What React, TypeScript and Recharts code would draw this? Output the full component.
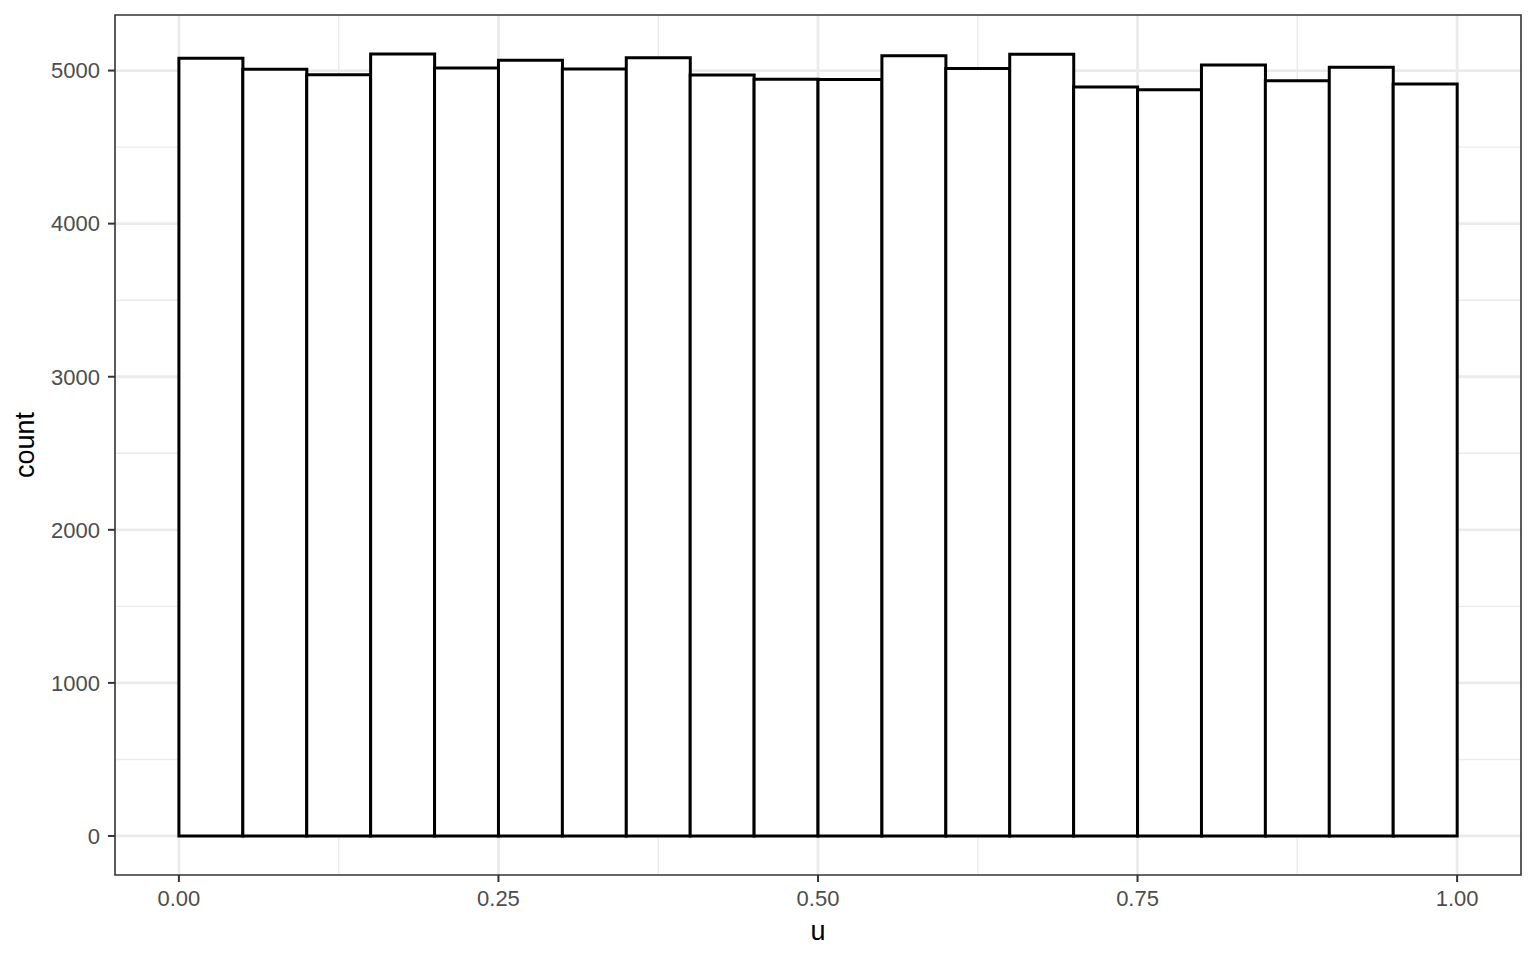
import { BarChart, Bar, XAxis, YAxis, CartesianGrid, ReferenceArea, Label } from "recharts"

// histogram of u, 20 bins of width 0.05
const binMids = [
  0.025, 0.075, 0.125, 0.175, 0.225, 0.275, 0.325, 0.375, 0.425, 0.475,
  0.525, 0.575, 0.625, 0.675, 0.725, 0.775, 0.825, 0.875, 0.925, 0.975,
]
const counts = [
  5080, 5008, 4973, 5108, 5017, 5067, 5010, 5084, 4971, 4943,
  4941, 5097, 5014, 5106, 4893, 4875, 5036, 4934, 5021, 4912,
]
const xTicks = [0, 0.25, 0.5, 0.75, 1]
const xMinor = [0.125, 0.375, 0.625, 0.875]
const yTicks = [0, 1000, 2000, 3000, 4000, 5000]
const yMinor = [500, 1500, 2500, 3500, 4500]

const data = binMids.map((u, i) => ({ u, count: counts[i] }))

const X_DOMAIN: [number, number] = [-0.05, 1.05]
const Y_DOMAIN: [number, number] = [-255, 5363]

const font = "'Liberation Sans', Arial, Helvetica, sans-serif"
const gridColor = "#EBEBEB"

export default function App() {
  return (
    <div style={{ position: "absolute", left: 0, top: 0, width: 1536, height: 960, background: "#fff" }}>
      <BarChart
        width={1536}
        height={960}
        data={data}
        margin={{ top: 15, right: 15, bottom: 0, left: 0 }}
        barCategoryGap={0}
        barGap={0}
        style={{ fontFamily: font }}
      >
        {/* minor grid, then major grid */}
        <CartesianGrid
          horizontalValues={yMinor}
          verticalValues={xMinor}
          stroke={gridColor}
          strokeWidth={1.4}
        />
        <CartesianGrid
          horizontalValues={yTicks}
          verticalValues={xTicks}
          stroke={gridColor}
          strokeWidth={2.8}
        />
        <XAxis
          dataKey="u"
          type="number"
          domain={X_DOMAIN}
          allowDataOverflow
          ticks={xTicks}
          tickFormatter={(v: number) => v.toFixed(2)}
          height={85}
          axisLine={false}
          tickSize={7}
          tickMargin={8}
          tickLine={{ stroke: "#333333", strokeWidth: 2 }}
          tick={{ fill: "#4D4D4D", fontSize: 22, fontFamily: font }}
        >
          <Label
            value="u"
            position="insideBottom"
            offset={20}
            style={{ fill: "#000", fontSize: 27, fontFamily: font }}
          />
        </XAxis>
        <YAxis
          type="number"
          domain={Y_DOMAIN}
          allowDataOverflow
          ticks={yTicks}
          width={115}
          axisLine={false}
          tickSize={7}
          tickMargin={8}
          tickLine={{ stroke: "#333333", strokeWidth: 2 }}
          tick={{ fill: "#4D4D4D", fontSize: 22, fontFamily: font }}
        >
          <Label
            content={(props: any) => {
              const vb = props.viewBox || { x: 0, y: 15, width: 115, height: 860 }
              const x = vb.x + 34
              const y = vb.y + vb.height / 2
              return (
                <text
                  x={x}
                  y={y}
                  transform={`rotate(-90, ${x}, ${y})`}
                  textAnchor="middle"
                  fill="#000"
                  fontSize={27}
                  fontFamily={font}
                >
                  count
                </text>
              )
            }}
          />
        </YAxis>

        <Bar dataKey="count" fill="#ffffff" stroke="#000000" strokeWidth={3} isAnimationActive={false} />

        {/* panel border */}
        <ReferenceArea
          x1={X_DOMAIN[0]}
          x2={X_DOMAIN[1]}
          y1={Y_DOMAIN[0]}
          y2={Y_DOMAIN[1]}
          fill="none"
          fillOpacity={0}
          stroke="#333333"
          strokeWidth={1.6}
          ifOverflow="visible"
        />
      </BarChart>
    </div>
  )
}
